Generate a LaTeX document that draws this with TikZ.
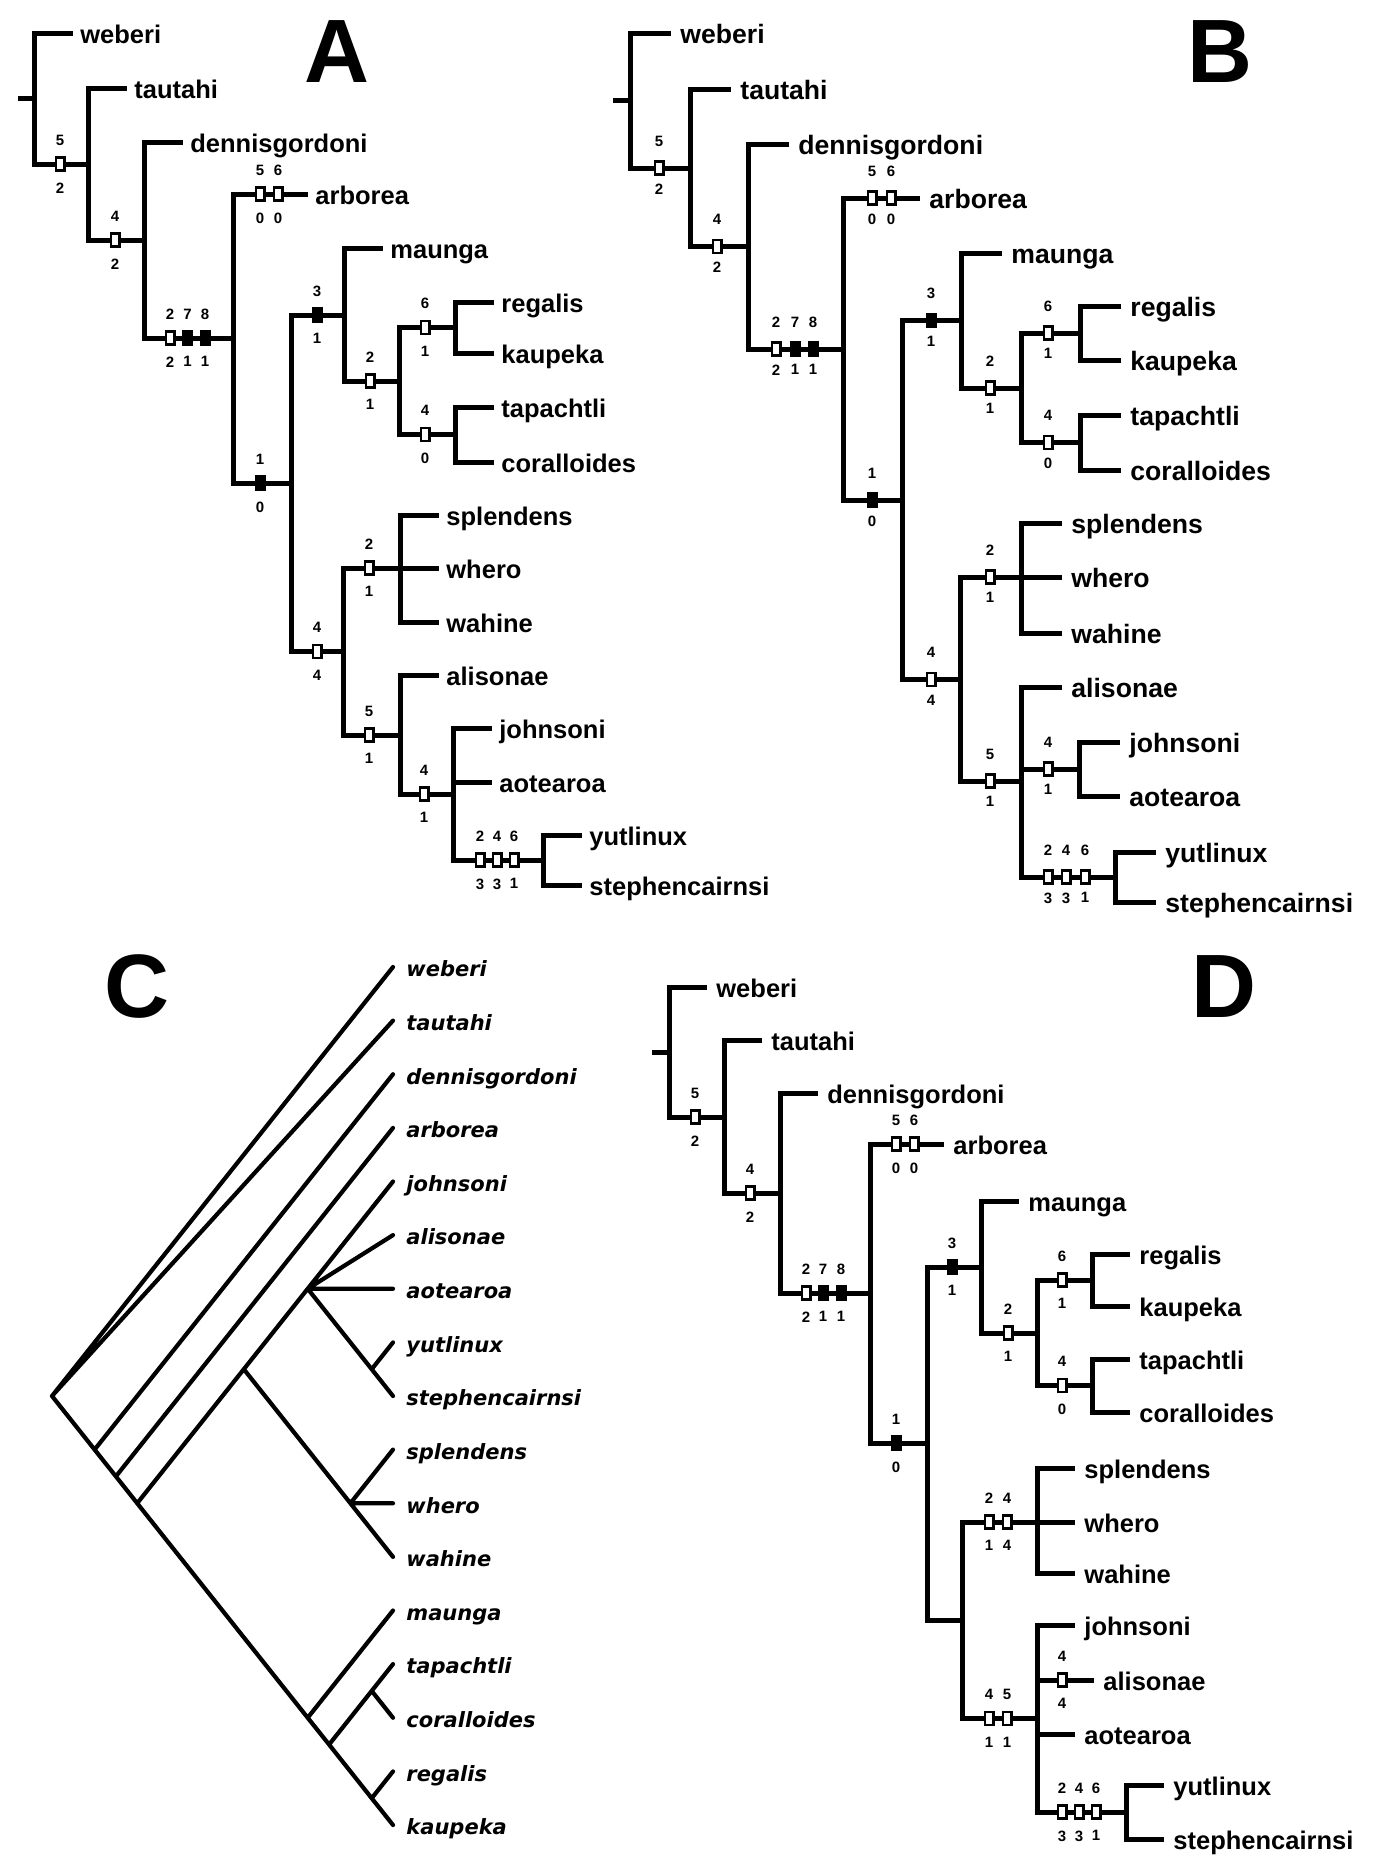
\documentclass[tikz,border=0pt]{standalone}
\usepackage{fontspec}
\setmainfont{Liberation Sans}
\newfontfamily\cladefont{DejaVu Sans}
\tikzset{
  br/.style={line width=2.5pt},
  cbr/.style={line width=2.1pt, line cap=round},
  leaf/.style={anchor=west, inner xsep=3.5pt, inner ysep=0pt, text height=1.05em, text depth=0pt, font=\fontsize{12.75pt}{13pt}\selectfont\bfseries},
  cleaf/.style={anchor=west, inner xsep=6.5pt, inner ysep=0pt, text height=0.98em, text depth=0pt, font=\cladefont\fontsize{10.5pt}{11pt}\selectfont\bfseries\itshape},
  num/.style={inner sep=0pt, font=\fontsize{7.5pt}{8pt}\selectfont\bfseries},
  openbox/.style={draw, line width=1.25pt, fill=white, minimum width=4.25pt, minimum height=6.5pt, inner sep=0pt},
  fullbox/.style={openbox, fill=black},
  ch/.style 2 args={label={above:#1}, label={below:#2}},
  panel/.style={anchor=base, inner sep=0pt, font=\fontsize{45pt}{46pt}\selectfont\bfseries}
}

\begin{document}
\begin{tikzpicture}[x=0.5pt, y=-0.5pt, label distance=5.25pt, every label/.style={num}]
  \path[fill=white, use as bounding box] (0,0) rectangle (1390,1874);

  % A
  \node[panel] (pA) at (337,82) {A};
  \coordinate (aS) at (18,98.5);
  \coordinate (aR) at (34,98.5);
  \coordinate (a5) at (88,164);
  \coordinate (a4) at (144,240);
  \coordinate (a278) at (233,338);
  \coordinate (a1) at (291,483);
  \coordinate (a3) at (344,315);
  \coordinate (a2) at (399,381);
  \coordinate (a6) at (455,327.5);
  \coordinate (a4t) at (455,434.5);
  \coordinate (a44) at (343,651.5);
  \coordinate (a2s) at (400,568);
  \coordinate (a5a) at (400,735);
  \coordinate (a4j) at (453,794);
  \coordinate (a246) at (543,860);
  \node[leaf] (a-weberi) at (73,33) {weberi};
  \node[leaf] (a-tautahi) at (127,88) {tautahi};
  \node[leaf] (a-dennisgordoni) at (183,142) {dennisgordoni};
  \node[leaf] (a-arborea) at (308,194) {arborea};
  \node[leaf] (a-maunga) at (383,248) {maunga};
  \node[leaf] (a-regalis) at (494,302) {regalis};
  \node[leaf] (a-kaupeka) at (494,353) {kaupeka};
  \node[leaf] (a-tapachtli) at (494,407) {tapachtli};
  \node[leaf] (a-coralloides) at (494,462) {coralloides};
  \node[leaf] (a-splendens) at (439,515) {splendens};
  \node[leaf] (a-whero) at (439,568) {whero};
  \node[leaf] (a-wahine) at (439,622) {wahine};
  \node[leaf] (a-alisonae) at (439,675) {alisonae};
  \node[leaf] (a-johnsoni) at (492,728) {johnsoni};
  \node[leaf] (a-aotearoa) at (492,782) {aotearoa};
  \node[leaf] (a-yutlinux) at (582,835) {yutlinux};
  \node[leaf] (a-stephencairnsi) at (582,885) {stephencairnsi};
  \draw[br] (aS) -- (aR)
    (aR) |- (a-weberi.west) (aR) |- (a5)
    (a5) |- (a-tautahi.west) (a5) |- (a4)
    (a4) |- (a-dennisgordoni.west) (a4) |- (a278)
    (a278) |- (a-arborea.west) (a278) |- (a1)
    (a1) |- (a3) (a1) |- (a44)
    (a3) |- (a-maunga.west) (a3) |- (a2)
    (a2) |- (a6) (a2) |- (a4t)
    (a6) |- (a-regalis.west) (a6) |- (a-kaupeka.west)
    (a4t) |- (a-tapachtli.west) (a4t) |- (a-coralloides.west)
    (a44) |- (a2s) (a44) |- (a5a)
    (a2s) |- (a-splendens.west) (a2s) |- (a-whero.west) (a2s) |- (a-wahine.west)
    (a5a) |- (a-alisonae.west) (a5a) |- (a4j)
    (a4j) |- (a-johnsoni.west) (a4j) |- (a-aotearoa.west) (a4j) |- (a246)
    (a246) |- (a-yutlinux.west) (a246) |- (a-stephencairnsi.west);
  \node[openbox, ch={5}{2}] (aB1) at (60,164) {};
  \node[openbox, ch={4}{2}] (aB2) at (115,240) {};
  \node[openbox, ch={2}{2}] (aB3) at (170,338) {};
  \node[fullbox, ch={7}{1}] (aB4) at (187.5,338) {};
  \node[fullbox, ch={8}{1}] (aB5) at (205,338) {};
  \node[openbox, ch={5}{0}] (aB6) at (260,194) {};
  \node[openbox, ch={6}{0}] (aB7) at (278,194) {};
  \node[fullbox, ch={1}{0}] (aB8) at (260,483) {};
  \node[fullbox, ch={3}{1}] (aB9) at (317,315) {};
  \node[openbox, ch={2}{1}] (aB10) at (370,381) {};
  \node[openbox, ch={6}{1}] (aB11) at (425,327.5) {};
  \node[openbox, ch={4}{0}] (aB12) at (425,434.5) {};
  \node[openbox, ch={4}{4}] (aB13) at (317,651.5) {};
  \node[openbox, ch={2}{1}] (aB14) at (369,568) {};
  \node[openbox, ch={5}{1}] (aB15) at (369,735) {};
  \node[openbox, ch={4}{1}] (aB16) at (424,794) {};
  \node[openbox, ch={2}{3}] (aB17) at (480,860) {};
  \node[openbox, ch={4}{3}] (aB18) at (497,860) {};
  \node[openbox, ch={6}{1}] (aB19) at (514,860) {};

  % B
  \begin{scope}[leaf/.append style={inner xsep=4.5pt, font=\fontsize{13.3pt}{14pt}\selectfont\bfseries},
                every label/.append style={yshift=1.5pt}]
  \node[panel] (pB) at (1220,82) {B};
  \coordinate (bS) at (613,100.5);
  \coordinate (bR) at (630,100.5);
  \coordinate (b5) at (690,168);
  \coordinate (b4) at (748,246.5);
  \coordinate (b278) at (843,349);
  \coordinate (b1) at (902,500);
  \coordinate (b3) at (961,320.5);
  \coordinate (b2) at (1021,388);
  \coordinate (b6) at (1080,333);
  \coordinate (b4t) at (1080,442.5);
  \coordinate (b44) at (960,679.5);
  \coordinate (b2s) at (1021,577);
  \coordinate (b5a) at (1021,781);
  \coordinate (b4j) at (1079,769);
  \coordinate (b246) at (1115,877);
  \node[leaf] (b-weberi) at (671,33) {weberi};
  \node[leaf] (b-tautahi) at (731,89) {tautahi};
  \node[leaf] (b-dennisgordoni) at (789,144) {dennisgordoni};
  \node[leaf] (b-arborea) at (920,198) {arborea};
  \node[leaf] (b-maunga) at (1002,253) {maunga};
  \node[leaf] (b-regalis) at (1121,306) {regalis};
  \node[leaf] (b-kaupeka) at (1121,360) {kaupeka};
  \node[leaf] (b-tapachtli) at (1121,415) {tapachtli};
  \node[leaf] (b-coralloides) at (1121,470) {coralloides};
  \node[leaf] (b-splendens) at (1062,523) {splendens};
  \node[leaf] (b-whero) at (1062,577) {whero};
  \node[leaf] (b-wahine) at (1062,633) {wahine};
  \node[leaf] (b-alisonae) at (1062,687) {alisonae};
  \node[leaf] (b-johnsoni) at (1120,742) {johnsoni};
  \node[leaf] (b-aotearoa) at (1120,796) {aotearoa};
  \node[leaf] (b-yutlinux) at (1156,852) {yutlinux};
  \node[leaf] (b-stephencairnsi) at (1156,902) {stephencairnsi};
  \draw[br] (bS) -- (bR)
    (bR) |- (b-weberi.west) (bR) |- (b5)
    (b5) |- (b-tautahi.west) (b5) |- (b4)
    (b4) |- (b-dennisgordoni.west) (b4) |- (b278)
    (b278) |- (b-arborea.west) (b278) |- (b1)
    (b1) |- (b3) (b1) |- (b44)
    (b3) |- (b-maunga.west) (b3) |- (b2)
    (b2) |- (b6) (b2) |- (b4t)
    (b6) |- (b-regalis.west) (b6) |- (b-kaupeka.west)
    (b4t) |- (b-tapachtli.west) (b4t) |- (b-coralloides.west)
    (b44) |- (b2s) (b44) |- (b5a)
    (b2s) |- (b-splendens.west) (b2s) |- (b-whero.west) (b2s) |- (b-wahine.west)
    (b5a) |- (b-alisonae.west) (b5a) |- (b4j) (b5a) |- (b246)
    (b4j) |- (b-johnsoni.west) (b4j) |- (b-aotearoa.west)
    (b246) |- (b-yutlinux.west) (b246) |- (b-stephencairnsi.west);
  \node[openbox, ch={5}{2}] (bB1) at (659,168) {};
  \node[openbox, ch={4}{2}] (bB2) at (717,246.5) {};
  \node[openbox, ch={2}{2}] (bB3) at (776,349) {};
  \node[fullbox, ch={7}{1}] (bB4) at (795,349) {};
  \node[fullbox, ch={8}{1}] (bB5) at (813,349) {};
  \node[openbox, ch={5}{0}] (bB6) at (872,198) {};
  \node[openbox, ch={6}{0}] (bB7) at (891,198) {};
  \node[fullbox, ch={1}{0}] (bB8) at (872,500) {};
  \node[fullbox, ch={3}{1}] (bB9) at (931,320.5) {};
  \node[openbox, ch={2}{1}] (bB10) at (990,388) {};
  \node[openbox, ch={6}{1}] (bB11) at (1048,333) {};
  \node[openbox, ch={4}{0}] (bB12) at (1048,442.5) {};
  \node[openbox, ch={4}{4}] (bB13) at (931,679.5) {};
  \node[openbox, ch={2}{1}] (bB14) at (990,577) {};
  \node[openbox, ch={5}{1}] (bB15) at (990,781) {};
  \node[openbox, ch={4}{1}] (bB16) at (1048,769) {};
  \node[openbox, ch={2}{3}] (bB17) at (1048,877) {};
  \node[openbox, ch={4}{3}] (bB18) at (1066,877) {};
  \node[openbox, ch={6}{1}] (bB19) at (1085,877) {};
  \end{scope}

  % C
  \node[panel] (pC) at (137,1017) {C};
  \coordinate (cR) at (52,1396);
  \coordinate (c1) at (94.6,1449.6);
  \coordinate (c2) at (115.9,1476.4);
  \coordinate (c3) at (137.2,1503.25);
  \coordinate (cjs) at (243.8,1369.2);
  \coordinate (cj) at (307.7,1288.75);
  \coordinate (cys) at (371.7,1369.2);
  \coordinate (csw) at (350.4,1503.25);
  \coordinate (cm) at (307.7,1717.75);
  \coordinate (ctr) at (329.1,1744.55);
  \coordinate (ctc) at (371.7,1690.9);
  \coordinate (crk) at (371.7,1798.2);
  \node[cleaf] (c-weberi) at (393,967) {weberi};
  \node[cleaf] (c-tautahi) at (393,1020.6) {tautahi};
  \node[cleaf] (c-dennisgordoni) at (393,1074.25) {dennisgordoni};
  \node[cleaf] (c-arborea) at (393,1127.9) {arborea};
  \node[cleaf] (c-johnsoni) at (393,1181.5) {johnsoni};
  \node[cleaf] (c-alisonae) at (393,1235.1) {alisonae};
  \node[cleaf] (c-aotearoa) at (393,1288.75) {aotearoa};
  \node[cleaf] (c-yutlinux) at (393,1342.4) {yutlinux};
  \node[cleaf] (c-stephencairnsi) at (393,1396) {stephencairnsi};
  \node[cleaf] (c-splendens) at (393,1449.6) {splendens};
  \node[cleaf] (c-whero) at (393,1503.25) {whero};
  \node[cleaf] (c-wahine) at (393,1556.9) {wahine};
  \node[cleaf] (c-maunga) at (393,1610.5) {maunga};
  \node[cleaf] (c-tapachtli) at (393,1664.1) {tapachtli};
  \node[cleaf] (c-coralloides) at (393,1717.75) {coralloides};
  \node[cleaf] (c-regalis) at (393,1771.4) {regalis};
  \node[cleaf] (c-kaupeka) at (393,1825) {kaupeka};
  \draw[cbr] (cR) -- (c-weberi.west) (cR) -- (c-tautahi.west) (cR) -- (c1)
    (c1) -- (c-dennisgordoni.west) (c1) -- (c2)
    (c2) -- (c-arborea.west) (c2) -- (c3)
    (c3) -- (cjs) (c3) -- (cm)
    (cjs) -- (cj) (cjs) -- (csw)
    (cj) -- (c-johnsoni.west) (cj) -- (c-alisonae.west) (cj) -- (c-aotearoa.west) (cj) -- (cys)
    (cys) -- (c-yutlinux.west) (cys) -- (c-stephencairnsi.west)
    (csw) -- (c-splendens.west) (csw) -- (c-whero.west) (csw) -- (c-wahine.west)
    (cm) -- (c-maunga.west) (cm) -- (ctr)
    (ctr) -- (ctc) (ctr) -- (crk)
    (ctc) -- (c-tapachtli.west) (ctc) -- (c-coralloides.west)
    (crk) -- (c-regalis.west) (crk) -- (c-kaupeka.west);

  % D
  \begin{scope}[leaf/.append style={inner xsep=4.5pt}]
  \node[panel] (pD) at (1224,1017) {D};
  \coordinate (dS) at (652,1052);
  \coordinate (dR) at (669,1052);
  \coordinate (d5) at (724,1117);
  \coordinate (d4) at (780,1193);
  \coordinate (d278) at (870,1293);
  \coordinate (d1) at (927,1443);
  \coordinate (d3) at (981,1267);
  \coordinate (d2) at (1037,1333);
  \coordinate (d6) at (1092,1280);
  \coordinate (d4t) at (1092,1385.5);
  \coordinate (dX) at (962,1620);
  \coordinate (d24) at (1037,1522);
  \coordinate (d45) at (1037,1718.5);
  \coordinate (d246) at (1126,1812);
  \node[leaf] (d-weberi) at (707,987) {weberi};
  \node[leaf] (d-tautahi) at (762,1040) {tautahi};
  \node[leaf] (d-dennisgordoni) at (818,1093) {dennisgordoni};
  \node[leaf] (d-arborea) at (944,1144) {arborea};
  \node[leaf] (d-maunga) at (1019,1201) {maunga};
  \node[leaf] (d-regalis) at (1130,1254) {regalis};
  \node[leaf] (d-kaupeka) at (1130,1306) {kaupeka};
  \node[leaf] (d-tapachtli) at (1130,1359) {tapachtli};
  \node[leaf] (d-coralloides) at (1130,1412) {coralloides};
  \node[leaf] (d-splendens) at (1075,1468) {splendens};
  \node[leaf] (d-whero) at (1075,1522) {whero};
  \node[leaf] (d-wahine) at (1075,1573) {wahine};
  \node[leaf] (d-johnsoni) at (1075,1625) {johnsoni};
  \node[leaf] (d-alisonae) at (1094,1680) {alisonae};
  \node[leaf] (d-aotearoa) at (1075,1734) {aotearoa};
  \node[leaf] (d-yutlinux) at (1164,1785) {yutlinux};
  \node[leaf] (d-stephencairnsi) at (1164,1839) {stephencairnsi};
  \draw[br] (dS) -- (dR)
    (dR) |- (d-weberi.west) (dR) |- (d5)
    (d5) |- (d-tautahi.west) (d5) |- (d4)
    (d4) |- (d-dennisgordoni.west) (d4) |- (d278)
    (d278) |- (d-arborea.west) (d278) |- (d1)
    (d1) |- (d3) (d1) |- (dX)
    (d3) |- (d-maunga.west) (d3) |- (d2)
    (d2) |- (d6) (d2) |- (d4t)
    (d6) |- (d-regalis.west) (d6) |- (d-kaupeka.west)
    (d4t) |- (d-tapachtli.west) (d4t) |- (d-coralloides.west)
    (dX) |- (d24) (dX) |- (d45)
    (d24) |- (d-splendens.west) (d24) |- (d-whero.west) (d24) |- (d-wahine.west)
    (d45) |- (d-johnsoni.west) (d45) |- (d-alisonae.west) (d45) |- (d-aotearoa.west) (d45) |- (d246)
    (d246) |- (d-yutlinux.west) (d246) |- (d-stephencairnsi.west);
  \node[openbox, ch={5}{2}] (dB1) at (695,1117) {};
  \node[openbox, ch={4}{2}] (dB2) at (750,1193) {};
  \node[openbox, ch={2}{2}] (dB3) at (806,1293) {};
  \node[fullbox, ch={7}{1}] (dB4) at (823,1293) {};
  \node[fullbox, ch={8}{1}] (dB5) at (841,1293) {};
  \node[openbox, ch={5}{0}] (dB6) at (896,1144) {};
  \node[openbox, ch={6}{0}] (dB7) at (914,1144) {};
  \node[fullbox, ch={1}{0}] (dB8) at (896,1443) {};
  \node[fullbox, ch={3}{1}] (dB9) at (952,1267) {};
  \node[openbox, ch={2}{1}] (dB10) at (1008,1333) {};
  \node[openbox, ch={6}{1}] (dB11) at (1062,1280) {};
  \node[openbox, ch={4}{0}] (dB12) at (1062,1385.5) {};
  \node[openbox, ch={2}{1}] (dB13) at (989,1522) {};
  \node[openbox, ch={4}{4}] (dB14) at (1007,1522) {};
  \node[openbox, ch={4}{1}] (dB15) at (989,1718.5) {};
  \node[openbox, ch={5}{1}] (dB16) at (1007,1718.5) {};
  \node[openbox, ch={4}{4}] (dB17) at (1062,1680) {};
  \node[openbox, ch={2}{3}] (dB18) at (1062,1812) {};
  \node[openbox, ch={4}{3}] (dB19) at (1079,1812) {};
  \node[openbox, ch={6}{1}] (dB20) at (1096,1812) {};
  \end{scope}
\end{tikzpicture}
\end{document}
